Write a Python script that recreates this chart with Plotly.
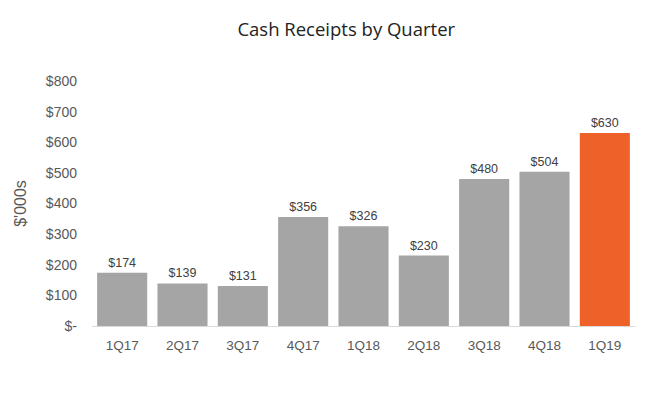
import plotly.graph_objects as go

quarters = ["1Q17", "2Q17", "3Q17", "4Q17", "1Q18", "2Q18", "3Q18", "4Q18", "1Q19"]
receipts = [174, 139, 131, 356, 326, 230, 480, 504, 630]
bar_colors = ["#A5A5A5"] * 8 + ["#EE6128"]
y_ticks = [0, 100, 200, 300, 400, 500, 600, 700, 800]
y_tick_labels = ["$-", "$100", "$200", "$300", "$400", "$500", "$600", "$700", "$800"]

fig = go.Figure(go.Bar(
    x=quarters, y=receipts,
    marker=dict(color=bar_colors, line=dict(width=0)),
    text=[f"${v}" for v in receipts],
    textposition="outside",
    textfont=dict(family="Arial", size=12.5, color="#404040"),
    cliponaxis=False,
))

fig.update_layout(
    width=648, height=393,
    paper_bgcolor="white", plot_bgcolor="white",
    margin=dict(l=84, r=21, t=73, b=75, autoexpand=False),
    bargap=0.17,
    showlegend=False,
    title=dict(text="Cash Receipts by Quarter", x=0.522, xanchor="center", y=0.944, yanchor="middle",
               font=dict(family="Open Sans", size=18.5, color="#222222")),
    xaxis=dict(showline=True, linecolor="#D9D9D9", linewidth=1, ticks="", automargin=False,
               ticklabelstandoff=7,
               tickfont=dict(family="Arial", size=13.5, color="#595959")),
    yaxis=dict(range=[0, 800], tickvals=y_ticks, ticktext=y_tick_labels, showgrid=False,
               zeroline=False, showline=False, ticks="", ticklabelstandoff=14, automargin=False,
               tickfont=dict(family="Arial", size=14, color="#595959"),
               title=dict(text="$'000s", standoff=15,
                          font=dict(family="Arial", size=16, color="#595959"))),
)

fig.write_html("out.html")
